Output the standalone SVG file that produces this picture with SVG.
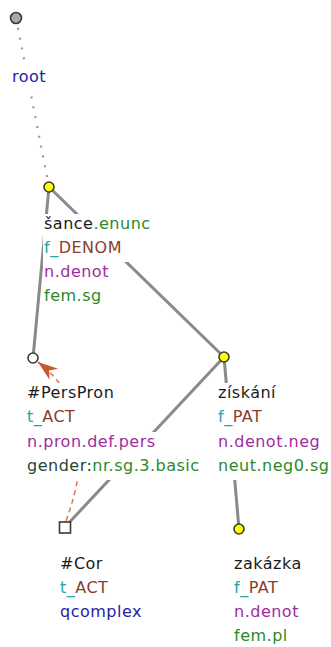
<svg xmlns="http://www.w3.org/2000/svg" width="331" height="647" viewBox="0 0 331 647">
<style>
text{font-family:"DejaVu Sans","Liberation Sans",sans-serif;font-size:16px;letter-spacing:0.5px}
.bg{fill:#ffffff}
.edge{stroke:#8a8a8a;stroke-width:3;fill:none}
.root-edge{stroke:#999999;stroke-width:2.2;stroke-dasharray:2 8;fill:none}
.coref{stroke:#e07a58;stroke-width:1.6;stroke-dasharray:5 4;fill:none}
.nd{stroke:#3a3a3a;stroke-width:1.6}
.yel{fill:#ffff00}
.wht{fill:#ffffff}
.gry{fill:#a8a8a8}
.blk{fill:#1a1a1a}
.grn{fill:#2a8a2a}
.dgr{fill:#254535}
.tea{fill:#20a5a5}
.brn{fill:#8b3d2b}
.pur{fill:#a02ca0}
.blu{fill:#2323a0}
</style>
<defs>
<marker id="arr" viewBox="-21 -8 22 16" refX="0" refY="0" markerWidth="22" markerHeight="16" markerUnits="userSpaceOnUse" orient="auto">
<path d="M0,0 L-20,-7 L-14,0 L-20,7 Z" fill="#c85a32"/>
</marker>
</defs>
<g id="connectors">
<line class="root-edge" x1="16" y1="18" x2="49" y2="187"/>
<line class="edge" x1="49" y1="187" x2="33" y2="358"/>
<line class="edge" x1="49" y1="187" x2="224" y2="357"/>
<line class="edge" x1="224" y1="357" x2="65" y2="527"/>
<line class="edge" x1="224" y1="357" x2="239" y2="529"/>
<path class="coref" d="M66,521 Q105,414 38,362" marker-end="url(#arr)"/>
</g>
<g id="node-root">
<circle class="nd gry" cx="16" cy="18" r="5.5"/>
<rect class="bg" x="11" y="67" width="37" height="24"/>
<text x="12" y="82" class="blu">root</text>
</g>
<g id="node-sance">
<circle class="nd yel" cx="49" cy="187" r="5"/>
<rect class="bg" x="43" y="214" width="110" height="24"/>
<rect class="bg" x="43" y="238" width="89" height="24"/>
<rect class="bg" x="43" y="262" width="68" height="24"/>
<rect class="bg" x="43" y="286" width="60" height="24"/>
<text x="44" y="229"><tspan class="blk">šance</tspan><tspan class="grn">.enunc</tspan></text>
<text x="44" y="253"><tspan class="tea">f_</tspan><tspan class="brn">DENOM</tspan></text>
<text x="44" y="277" class="pur">n.denot</text>
<text x="44" y="301" class="grn">fem.sg</text>
</g>
<g id="node-perspron">
<circle class="nd wht" cx="33" cy="358" r="5"/>
<rect class="bg" x="26" y="383" width="93" height="24"/>
<rect class="bg" x="26" y="407" width="58" height="25"/>
<rect class="bg" x="26" y="432" width="132" height="24"/>
<rect class="bg" x="26" y="456" width="178" height="24"/>
<text x="27" y="398" class="blk">#PersPron</text>
<text x="27" y="422"><tspan class="tea">t_</tspan><tspan class="brn">ACT</tspan></text>
<text x="27" y="447" class="pur">n.pron.def.pers</text>
<text x="27" y="471"><tspan class="dgr">gender:</tspan><tspan class="grn">nr.sg.3.basic</tspan></text>
</g>
<g id="node-ziskani">
<circle class="nd yel" cx="224" cy="357" r="5"/>
<rect class="bg" x="217" y="383" width="62" height="24"/>
<rect class="bg" x="217" y="407" width="56" height="25"/>
<rect class="bg" x="217" y="432" width="104" height="24"/>
<rect class="bg" x="217" y="456" width="113" height="24"/>
<text x="218" y="398" class="blk">získání</text>
<text x="218" y="422"><tspan class="tea">f_</tspan><tspan class="brn">PAT</tspan></text>
<text x="218" y="447" class="pur">n.denot.neg</text>
<text x="218" y="471" class="grn">neut.neg0.sg</text>
</g>
<g id="node-cor">
<rect class="nd wht" x="59.5" y="522" width="11" height="11"/>
<text x="60" y="569" class="blk">#Cor</text>
<text x="60" y="593"><tspan class="tea">t_</tspan><tspan class="brn">ACT</tspan></text>
<text x="60" y="617" class="blu">qcomplex</text>
</g>
<g id="node-zakazka">
<circle class="nd yel" cx="239" cy="529" r="5"/>
<text x="234" y="569" class="blk">zakázka</text>
<text x="234" y="593"><tspan class="tea">f_</tspan><tspan class="brn">PAT</tspan></text>
<text x="234" y="617" class="pur">n.denot</text>
<text x="234" y="641" class="grn">fem.pl</text>
</g>
</svg>
